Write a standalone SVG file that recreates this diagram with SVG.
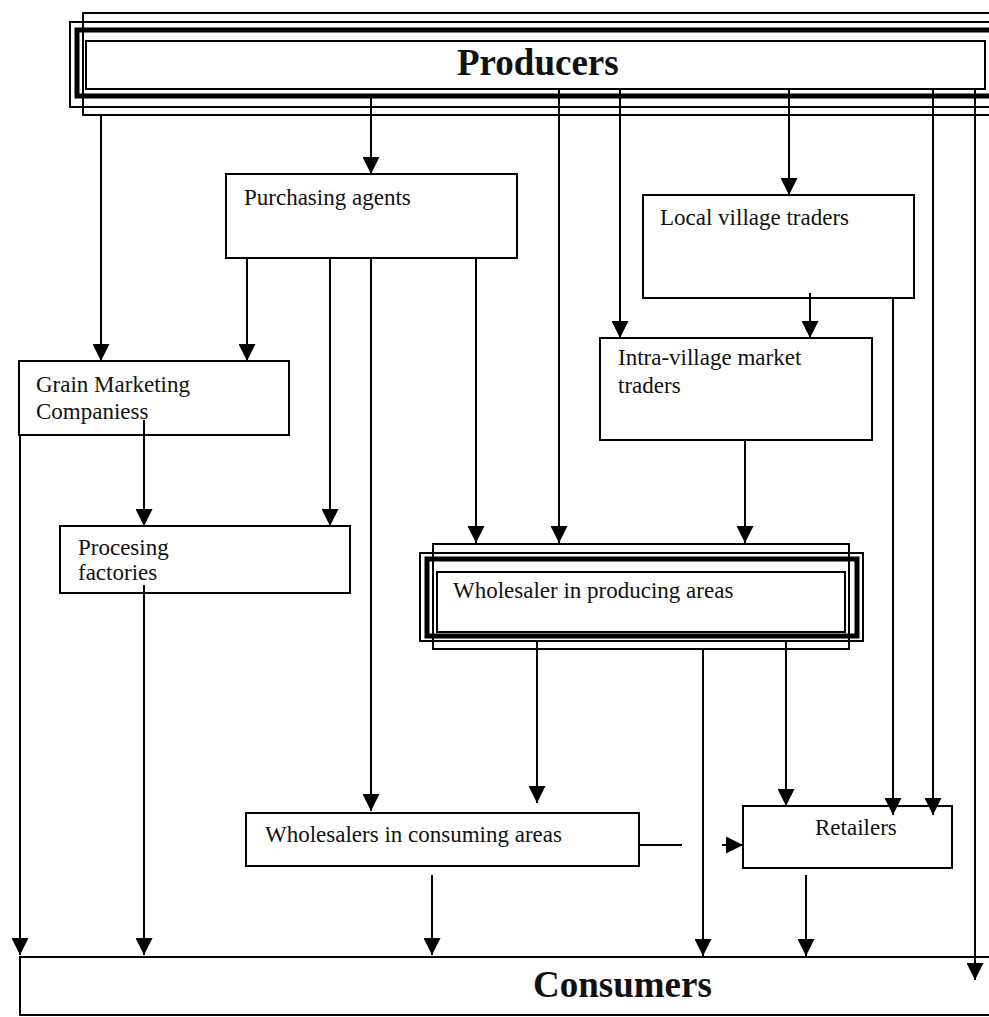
<svg xmlns="http://www.w3.org/2000/svg" width="989" height="1017" viewBox="0 0 989 1017">
<style>
.box{fill:none;stroke:#000;stroke-width:2}
.thick{fill:none;stroke:#000;stroke-width:5}
.lbl{font-family:"Liberation Serif","Times New Roman",serif;font-size:23px;fill:#111}
.big{font-family:"Liberation Serif","Times New Roman",serif;font-size:37px;font-weight:bold;fill:#111}
.c{fill:none;stroke:#000;stroke-width:2}
.a{fill:none;stroke:#000;stroke-width:2;marker-end:url(#ah)}
</style>
<defs>
<marker id="ah" viewBox="0 0 17 17" refX="17" refY="8.5" markerWidth="17" markerHeight="17" markerUnits="userSpaceOnUse" orient="auto">
<path d="M0,0 L17,8.5 L0,17 z" fill="#000"/>
</marker>
</defs>
<rect width="989" height="1017" fill="#fff"/>
<g id="connectors">
<path class="a" d="M101,115 V361"/>
<path class="a" d="M371,96 V174"/>
<path class="a" d="M559,89 V543"/>
<path class="a" d="M620,89 V338"/>
<path class="a" d="M789,89 V195"/>
<path class="a" d="M933,89 V815"/>
<path class="a" d="M975,89 V980"/>
<path class="a" d="M247,258 V361"/>
<path class="a" d="M330,258 V526"/>
<path class="a" d="M371,258 V811"/>
<path class="a" d="M476,258 V543"/>
<path class="a" d="M144,420 V526"/>
<path class="a" d="M20,435 V955"/>
<path class="a" d="M144,585 V955"/>
<path class="a" d="M810,293 V338"/>
<path class="a" d="M893,298 V815"/>
<path class="a" d="M745,440 V543"/>
<path class="a" d="M537,640 V803"/>
<path class="a" d="M703,649 V956"/>
<path class="a" d="M786,640 V806"/>
<path class="c" d="M640,845 H682"/>
<path class="a" d="M722,845 H743"/>
<path class="a" d="M432,875 V955"/>
<path class="a" d="M806,875 V956"/>
</g>
<g id="producers">
<rect class="box" x="83" y="13" width="920" height="102"/>
<rect class="box" x="70" y="22" width="930" height="85"/>
<rect class="thick" x="77" y="30" width="925" height="66"/>
<rect class="box" x="86" y="41" width="899" height="48"/>
<text class="big" x="457" y="75">Producers</text>
</g>
<g id="purchasing-agents">
<rect class="box" x="226" y="174" width="291" height="84"/>
<text class="lbl" x="244" y="205">Purchasing agents</text>
</g>
<g id="local-village-traders">
<rect class="box" x="643" y="195" width="271" height="103"/>
<text class="lbl" x="660" y="225">Local village traders</text>
</g>
<g id="intra-village-market-traders">
<rect class="box" x="600" y="338" width="272" height="102"/>
<text class="lbl" x="618" y="365">Intra-village market</text>
<text class="lbl" x="618" y="393">traders</text>
</g>
<g id="grain-marketing">
<rect class="box" x="19" y="361" width="270" height="74"/>
<text class="lbl" x="36" y="392">Grain Marketing</text>
<text class="lbl" x="36" y="419">Companiess</text>
</g>
<g id="processing-factories">
<rect class="box" x="60" y="526" width="290" height="67"/>
<text class="lbl" x="78" y="555">Procesing</text>
<text class="lbl" x="78" y="580">factories</text>
</g>
<g id="wholesaler-producing">
<rect class="box" x="433" y="544" width="416" height="105"/>
<rect class="box" x="420" y="553" width="443" height="88"/>
<rect class="thick" x="427" y="559" width="430" height="77"/>
<rect class="box" x="437" y="572" width="408" height="60"/>
<text class="lbl" x="453" y="598">Wholesaler in producing areas</text>
</g>
<g id="wholesalers-consuming">
<rect class="box" x="246" y="813" width="393" height="53"/>
<text class="lbl" x="265" y="842">Wholesalers in consuming areas</text>
</g>
<g id="retailers">
<rect class="box" x="743" y="806" width="209" height="62"/>
<text class="lbl" x="815" y="835">Retailers</text>
</g>
<g id="consumers">
<path class="box" d="M989,957 H20 V1015 H989"/>
<text class="big" x="533" y="997">Consumers</text>
</g>
</svg>
